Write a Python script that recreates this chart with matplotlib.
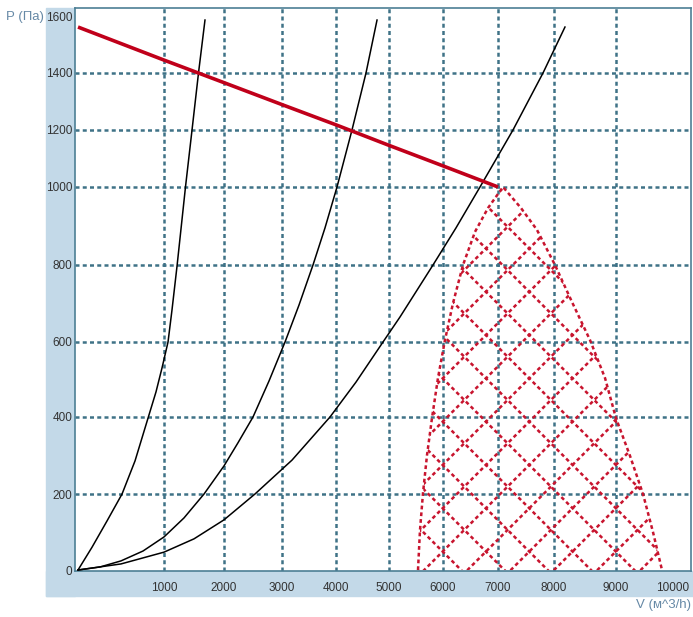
import numpy as np
import matplotlib.pyplot as plt
from matplotlib.patches import Polygon, Rectangle

plt.rcParams['font.family'] = ['Liberation Sans', 'DejaVu Sans']

W, H = 693, 617

# tick values
x_ticks = [1000, 2000, 3000, 4000, 5000, 6000, 7000, 8000, 9000, 10000]
y_ticks = [0, 200, 400, 600, 800, 1000, 1200, 1400, 1600]

# network curves (V, P)
net1_v = [0, 163, 337, 512, 663, 814, 907, 977, 1067, 1133, 1217, 1358, 1467, 1575, 1683]
net1_p = [0, 60, 129, 200, 286, 397, 467, 531, 600, 683, 797, 1000, 1200, 1400, 1589]

net2_v = [0, 256, 500, 756, 1000, 1333, 1667, 2000, 2241, 2500, 2776, 3056,
          3315, 3574, 3796, 4019, 4302, 4566, 4774]
net2_p = [0, 8, 24, 50, 87, 137, 200, 273, 333, 400, 496, 600,
          696, 800, 895, 1000, 1200, 1400, 1589]

net3_v = [0, 500, 1000, 1500, 2000, 2534, 3185, 3889, 4377, 4887, 5204, 5815,
          6236, 6673, 7268, 7804, 8177]
net3_p = [0, 16, 47, 82, 132, 200, 288, 400, 493, 600, 665, 800,
          895, 1000, 1200, 1400, 1564]

# fan curve
fan_v = [0, 1000, 2000, 3000, 4000, 5000, 6000, 7000]
fan_p = [1564, 1446, 1366, 1289, 1218, 1146, 1074, 1000]

# working zone outline
zone_left_v = [5537, 5574, 5630, 5704, 5796, 5907, 6036, 6182, 6364, 6582, 6818, 7089]
zone_left_p = [0, 105, 203, 301, 397, 504, 605, 701, 800, 885, 946, 1000]
zone_right_v = [7089, 7411, 7696, 8016, 8290, 8581, 8823, 9000, 9246, 9474, 9649, 9807]
zone_right_p = [1000, 946, 890, 800, 704, 605, 504, 397, 299, 200, 100, 0]

# axis spacing of the printed grid (pixels along each axis)
x_scale_vals = [0] + x_ticks
x_scale_pos = [78, 164, 224, 282, 336, 389, 443, 498, 554, 616, 673]
y_scale_vals = y_ticks
y_scale_pos = [47, 123, 200, 275, 352, 430, 487, 544, 600]


def piecewise(xp, fp):
    xp = np.asarray(xp, float)
    fp = np.asarray(fp, float)
    lo = (fp[1] - fp[0]) / (xp[1] - xp[0])
    hi = (fp[-1] - fp[-2]) / (xp[-1] - xp[-2])

    def f(v):
        v = np.asarray(v, float)
        out = np.interp(v, xp, fp)
        out = np.where(v < xp[0], fp[0] + (v - xp[0]) * lo, out)
        out = np.where(v > xp[-1], fp[-1] + (v - xp[-1]) * hi, out)
        return out
    return f


band = '#c3d9e8'
frame = '#4d7f95'
grid_c = '#3f7287'
red = '#c0001a'
red_dot = '#c8142e'

fig = plt.figure(figsize=(W / 100, H / 100), dpi=100)
fig.patches.append(Rectangle((46 / W, 1 - 596 / H), 29 / W, 588 / H,
                             transform=fig.transFigure, color=band, zorder=-5))
fig.patches.append(Rectangle((46 / W, 1 - 596 / H), (W - 46) / W, 25 / H,
                             transform=fig.transFigure, color=band, zorder=-5))

ax = fig.add_axes([75 / W, (H - 571) / H, 616 / W, 563 / H])
ax.set_xscale('function', functions=(piecewise(x_scale_vals, x_scale_pos),
                                     piecewise(x_scale_pos, x_scale_vals)))
ax.set_yscale('function', functions=(piecewise(y_scale_vals, y_scale_pos),
                                     piecewise(y_scale_pos, y_scale_vals)))

grid_kw = dict(color=grid_c, lw=1.8, linestyle=(0, (1.6, 1.3)), zorder=1)
for v in x_ticks[:-1]:
    ax.axvline(v, **grid_kw)
for p in y_ticks[1:-1]:
    ax.axhline(p, **grid_kw)

for v, p in ((net1_v, net1_p), (net2_v, net2_p), (net3_v, net3_p)):
    ax.plot(v, p, color='black', lw=1.1, zorder=3, solid_joinstyle='round')

# working zone: dotted outline + dotted cross hatch clipped to it
zone_v = zone_left_v + zone_right_v[1:]
zone_p = zone_left_p + zone_right_p[1:]
dot = dict(color=red_dot, lw=1.8, linestyle=(0, (1.5, 1.2)), zorder=4)
clip = Polygon(np.column_stack([zone_v, zone_p]), closed=True,
               fill=False, edgecolor='none', transform=ax.transData)
ax.add_patch(clip)
ax.plot(zone_v, zone_p, **dot)

step = 43.3
xs = np.array([380.0, 700.0])
for k in range(-13, 13):
    for ys in (xs + (-21 + k * step), (864.3 + k * step) - xs):
        ln, = ax.plot(xs / W, 1 - ys / H, transform=fig.transFigure, **dot)
        ln.set_clip_path(clip)

ax.plot(fan_v, fan_p, color=red, lw=2.6, zorder=5, solid_capstyle='butt')

ax.set_xlim(-35, 10316)
ax.set_ylim(-2.6, 1632)
ax.set_xticks(x_ticks)
ax.set_xticklabels([str(v) for v in x_ticks])
ax.set_yticks(y_ticks)
ax.set_yticklabels([str(p) for p in y_ticks])
ax.tick_params(length=0, labelsize=8.5, labelcolor='#333333')
ax.tick_params(axis='x', pad=8)
ax.tick_params(axis='y', pad=2)
for s in ax.spines.values():
    s.set_color(frame)
    s.set_linewidth(1.2)

fig.text(6 / W, 1 - 17 / H, 'P (Па)', ha='left', va='center',
         fontsize=9.5, color='#6689a6')
fig.text(691 / W, 1 - 605 / H, 'V (м^3/h)', ha='right', va='center',
         fontsize=9.5, color='#6689a6')

fig.savefig('out.png', dpi=100)
